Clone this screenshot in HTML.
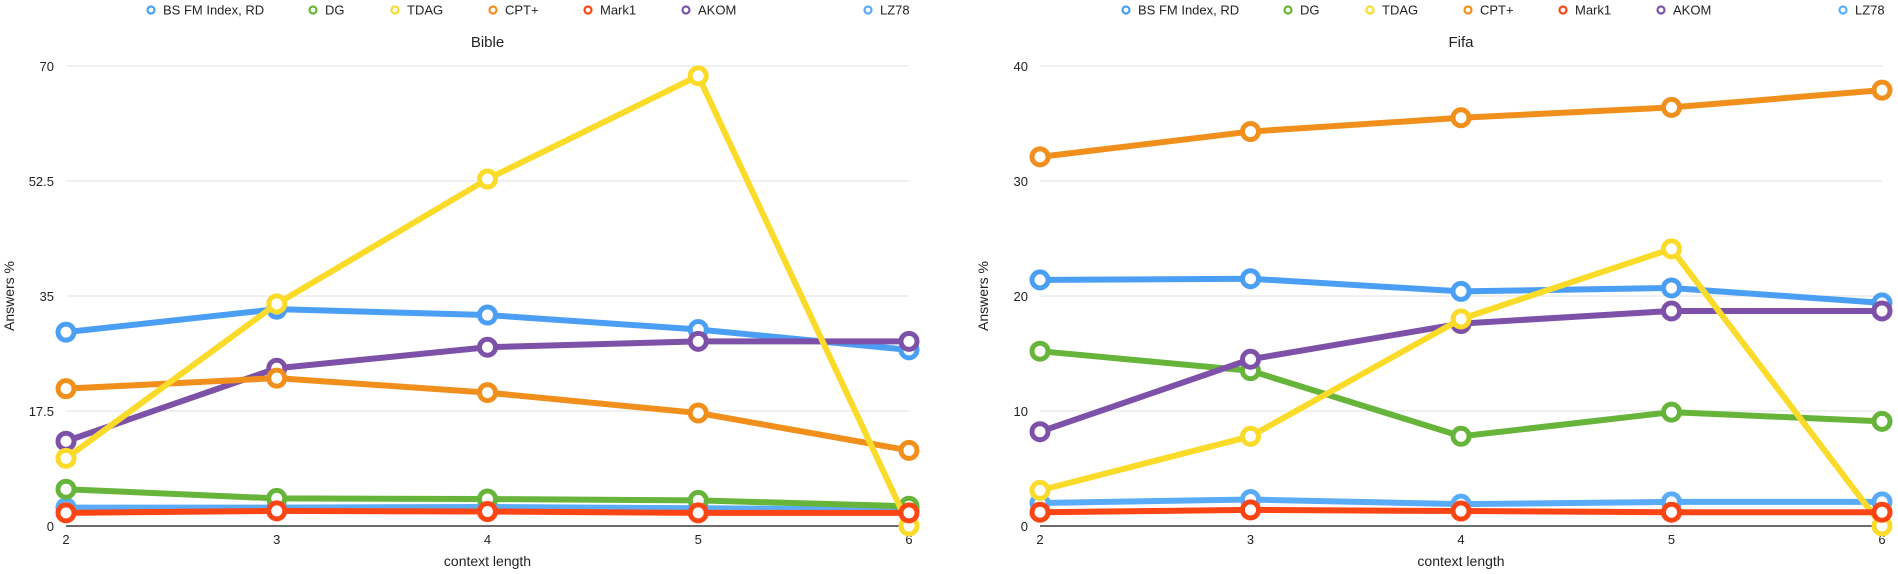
<!DOCTYPE html>
<html><head><meta charset="utf-8"><style>
body{margin:0;background:#fff;}
svg{display:block;font-family:"Liberation Sans",Arial,sans-serif;}
</style></head><body>
<svg id="chart" width="1898" height="574" viewBox="0 0 1898 574" xmlns="http://www.w3.org/2000/svg"></svg>
<script>
const seriesNames = ["BS FM Index, RD","DG","TDAG","CPT+","Mark1","AKOM","LZ78"];
const seriesColors = ["#4a9ff5","#66b43a","#fadb2a","#f18f1c","#fc4514","#7e51a8","#5aabf8"];
const contextLengths = [2,3,4,5,6];
const bibleTicks = [0,17.5,35,52.5,70];
const fifaTicks = [0,10,20,30,40];
const bibleBSFM = [29.5,33.0,32.1,29.9,26.8];
const bibleDG = [5.6,4.2,4.1,3.9,3.0];
const bibleTDAG = [10.3,33.8,52.8,68.5,0];
const bibleCPT = [20.9,22.5,20.3,17.2,11.5];
const bibleMark1 = [2.0,2.3,2.2,2.0,2.0];
const bibleAKOM = [12.9,24.0,27.2,28.1,28.1];
const bibleLZ78 = [2.8,2.8,2.9,2.7,2.5];
const fifaBSFM = [21.4,21.5,20.4,20.7,19.4];
const fifaDG = [15.2,13.5,7.8,9.9,9.1];
const fifaTDAG = [3.1,7.8,18.0,24.1,0];
const fifaCPT = [32.1,34.3,35.5,36.4,37.9];
const fifaMark1 = [1.2,1.4,1.3,1.2,1.2];
const fifaAKOM = [8.2,14.5,17.6,18.7,18.7];
const fifaLZ78 = [2.0,2.3,1.9,2.1,2.1];

const svg = document.getElementById('chart');
const NS = 'http://www.w3.org/2000/svg';
function mk(tag, attrs, parent){const e=document.createElementNS(NS,tag);for(const k in attrs)e.setAttribute(k,attrs[k]);(parent||svg).appendChild(e);return e;}

function drawChart(prefix, title, x0, x1, ticks, data, legendOffset){
  const yTop=66, yBot=526, maxV=ticks[ticks.length-1];
  const xs = v => x0 + (v - contextLengths[0])/(contextLengths[contextLengths.length-1]-contextLengths[0])*(x1-x0);
  const ys = v => yBot - v/maxV*(yBot-yTop);
  const g = mk('g',{});
  
  
  // legend
  const legX=[151,313,395,493,588,686,868];
  seriesNames.forEach((n,i)=>{
    const lg=mk('g',{},g);
    
    
    mk('circle',{cx:legX[i]+legendOffset,cy:10,r:3.5,fill:'#fff',stroke:seriesColors[i],'stroke-width':2.2},lg);
    const t=mk('text',{x:legX[i]+legendOffset+12,y:14.5,'font-size':13,fill:'#222'},lg);t.textContent=n;
  });
  const tt=mk('text',{x:(x0+x1)/2,y:47,'font-size':15,'text-anchor':'middle',fill:'#222'},g);
  tt.textContent=title;
  
  
  ticks.forEach(v=>{
    const y=ys(v);
    if(v>0){const l=mk('line',{x1:x0,x2:x1,y1:y,y2:y,stroke:'#e2e2e2','stroke-width':1},g);
      
      }
    const t=mk('text',{x:x0-12,y:y+5,'font-size':13,'text-anchor':'end',fill:'#222'},g);t.textContent=v;
    
    
  });
  const ax=mk('line',{x1:x0,x2:x1,y1:yBot,y2:yBot,stroke:'#111','stroke-width':1.2},g);
  
  
  contextLengths.forEach(c=>{
    const t=mk('text',{x:xs(c),y:544,'font-size':13,'text-anchor':'middle',fill:'#222'},g);t.textContent=c;
    
    
  });
  const xt=mk('text',{x:(x0+x1)/2,y:566,'font-size':14,'text-anchor':'middle',fill:'#222'},g);xt.textContent='context length';
  
  
  const yx=x0-52, yy=(yTop+yBot)/2;
  const yt=mk('text',{x:yx,y:yy,'font-size':14,'text-anchor':'middle',fill:'#222',transform:'rotate(-90 '+yx+' '+yy+')'},g);yt.textContent='Answers %';
  
  
  // draw order: back to front
  const order=[6,0,1,5,3,2,4];
  order.forEach(i=>{
    const vals=data[i];
    const pts=vals.map((v,k)=>xs(contextLengths[k])+','+ys(v)).join(' ');
    const pl=mk('polyline',{points:pts,fill:'none',stroke:seriesColors[i],'stroke-width':6,'stroke-linejoin':'round'},g);
    
    
    vals.forEach((v,k)=>{
      const c=mk('circle',{cx:xs(contextLengths[k]),cy:ys(v),r:8,fill:'#fff',stroke:seriesColors[i],'stroke-width':5},g);
      
      
    });
  });
}
drawChart('bible','Bible',66,909,bibleTicks,[bibleBSFM,bibleDG,bibleTDAG,bibleCPT,bibleMark1,bibleAKOM,bibleLZ78],0);
drawChart('fifa','Fifa',1040,1882,fifaTicks,[fifaBSFM,fifaDG,fifaTDAG,fifaCPT,fifaMark1,fifaAKOM,fifaLZ78],975);
</script>
</body></html>
